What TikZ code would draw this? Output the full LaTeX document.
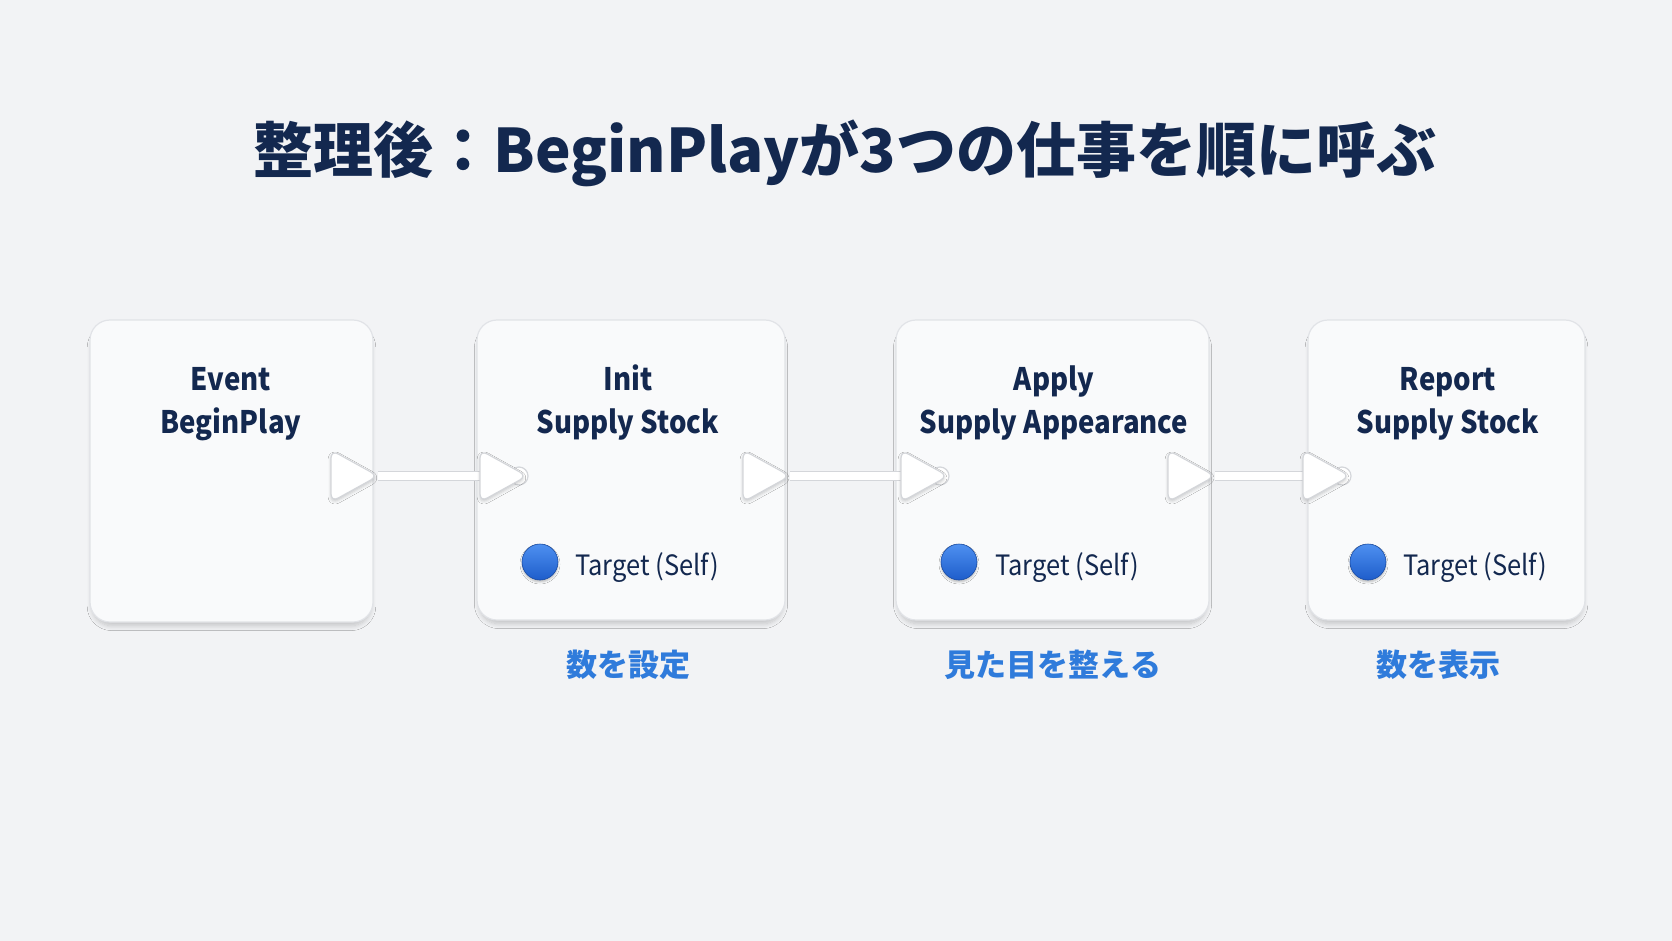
\documentclass[tikz,border=0pt]{standalone}
\usepackage{fontspec}
\setmainfont{Noto Sans CJK JP}
\newfontfamily\headfont[FakeStretch=0.89]{Noto Sans CJK JP}
\newfontfamily\targetfont[FakeStretch=0.91]{Noto Sans CJK JP}
\usetikzlibrary{shadows.blur}
\definecolor{bgc}{HTML}{F2F3F5}
\definecolor{boxfill}{HTML}{F9FAFB}
\definecolor{boxline}{HTML}{E1E3E7}
\definecolor{navy}{HTML}{13284F}
\definecolor{subblue}{HTML}{2F7BDB}
\definecolor{balltop}{HTML}{4E90F0}
\definecolor{ballbot}{HTML}{1E5DCB}
\definecolor{pinline}{HTML}{D4D6DA}
\tikzset{
  nodebox/.style={draw=boxline, line width=1.2pt, fill=boxfill, rounded corners=20pt, inner sep=0pt,
    blur shadow={shadow xshift=0pt, shadow yshift=-6pt, shadow scale=0.985, shadow blur radius=5pt, shadow blur steps=8, shadow opacity=20}},
  headtxt/.style={font=\headfont\bfseries\fontsize{31}{38}\selectfont, text=navy, anchor=base, inner sep=0pt},
  targettxt/.style={font=\targetfont\fontsize{28}{32}\selectfont, text=navy, anchor=base west, inner sep=0pt},
  subtxt/.style={font=\bfseries\fontsize{31}{34}\selectfont, text=subblue, inner sep=0pt},
  titletxt/.style={font=\bfseries\fontsize{60}{70}\selectfont, text=navy, inner sep=0pt},
  ballpin/.style={circle, minimum size=36pt, inner sep=0pt, top color=balltop, bottom color=ballbot,
    draw=ballbot!80!black, line width=0.6pt,
    blur shadow={shadow xshift=0pt, shadow yshift=-2pt, shadow blur radius=2pt, shadow opacity=25}},
  wire/.style={draw=pinline, line width=1.3pt, double=white, double distance=8pt},
  pinshape/.style={draw=pinline, line width=1.2pt, fill=white, rounded corners=8pt,
    blur shadow={shadow xshift=0pt, shadow yshift=-2pt, shadow blur radius=3pt, shadow opacity=20}},
  execpin/.pic={\path[pinshape] (-47,-26) -- (0,0) -- (-47,26) -- cycle;},
  inpin/.pic={\draw[draw=pinline, line width=1.2pt, fill=white] (-8,0) circle[radius=9];
              \path[pinshape] (-47,-26) -- (0,0) -- (-47,26) -- cycle;}
}
\begin{document}
\begin{tikzpicture}[x=1pt,y=-1pt]
\fill[bgc] (0,0) rectangle (1672,941);
\useasboundingbox (0,0) rectangle (1672,941);

% title
\node[titletxt] (title) at (845,153) {整理後：BeginPlayが3つの仕事を順に呼ぶ};

% boxes
\node[nodebox, minimum width=283pt, minimum height=302pt] (b1) at (231.5,471) {};
\node[nodebox, minimum width=308pt, minimum height=300pt] (b2) at (631,470) {};
\node[nodebox, minimum width=313pt, minimum height=300pt] (b3) at (1052.5,470) {};
\node[nodebox, minimum width=277pt, minimum height=300pt] (b4) at (1446.5,470) {};

% headings
\node[headtxt] (h1a) at (231,390) {Event};
\node[headtxt] (h1b) at (231,433) {BeginPlay};
\node[headtxt] (h2a) at (628,390) {Init};
\node[headtxt] (h2b) at (628,433) {Supply Stock};
\node[headtxt] (h3a) at (1054,390) {Apply};
\node[headtxt] (h3b) at (1054,433) {Supply Appearance};
\node[headtxt] (h4a) at (1448,390) {Report};
\node[headtxt] (h4b) at (1448,433) {Supply Stock};

% target pins
\node[ballpin] (p2) at (540,562) {};
\node[targettxt] (t2) at (575,575) {Target (Self)};
\node[ballpin] (p3) at (959,562) {};
\node[targettxt] (t3) at (995,575) {Target (Self)};
\node[ballpin] (p4) at (1368,562) {};
\node[targettxt] (t4) at (1403,575) {Target (Self)};

% subtitles
\node[subtxt] (s2) at (628,665) {数を設定};
\node[subtxt] (s3) at (1053,665) {見た目を整える};
\node[subtxt] (s4) at (1438,665) {数を表示};

% exec pins
\coordinate (o1) at (378,476);
\coordinate (i2) at (527,476);
\coordinate (o2) at (790,476);
\coordinate (i3) at (948,476);
\coordinate (o3) at (1215,476);
\coordinate (i4) at (1350,476);

\draw[wire] (o1) -- (i2);
\draw[wire] (o2) -- (i3);
\draw[wire] (o3) -- (i4);

\pic at (o1) {execpin};
\pic at (o2) {execpin};
\pic at (o3) {execpin};
\pic at (i2) {inpin};
\pic at (i3) {inpin};
\pic at (i4) {inpin};
\end{tikzpicture}
\end{document}
